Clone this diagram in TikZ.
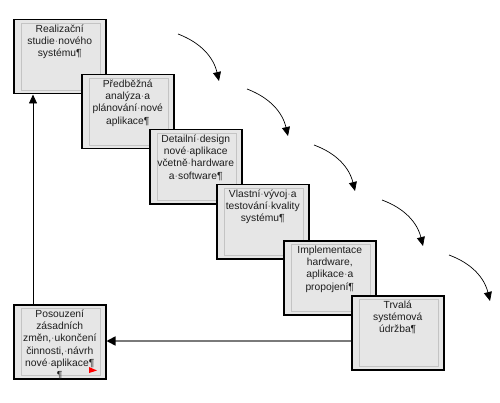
\documentclass[tikz,border=0pt]{standalone}
\usepackage{fontspec}
\setmainfont{Liberation Sans}
\usetikzlibrary{arrows.meta,calc}
\definecolor{boxgray}{HTML}{E6E6E6}
\definecolor{innergray}{HTML}{C4C4C4}
\definecolor{dotgray}{HTML}{707070}
\definecolor{txt}{HTML}{1E1E1E}
\definecolor{linegray}{HTML}{7A7A7A}
\newcommand\md{{\color{dotgray}·}}
\tikzset{
  boxst/.style={draw=black, line width=1.5pt, fill=boxgray, minimum width=92pt, minimum height=74pt, inner sep=0pt},
  innerst/.style={draw=innergray, line width=0.8pt},
  textst/.style={inner sep=0pt, text width=88pt, align=center, text=txt, font=\fontsize{10.3}{12.3}\selectfont},
  tri/.style={-{Triangle[length=9pt,width=8pt]}},
  curvearrow/.style={tri, line width=0.7pt, bend left=28},
  uparrow/.style={tri, line width=0.8pt},
  harrow/.style={-{Triangle[length=9pt,width=9pt,color=black]}, draw=linegray, line width=1.6pt},
}
\newcommand\wbox[4]{%
  \node[boxst, anchor=north west] (#1) at (#2,#3) {};
  \draw[innerst] ([xshift=8pt,yshift=-4pt]#1.north west) rectangle ([xshift=-6pt,yshift=4pt]#1.south east);
  \node[textst, anchor=north] (#1t) at ([yshift=-4.5pt]#1.north) {\strut #4};
}
\begin{document}
\begin{tikzpicture}[x=1pt,y=1pt]
\useasboundingbox (0,0) rectangle (500,402);
\wbox{b1}{13}{383}{Realizační\\studie\md nového\\systému¶}
\wbox{b2}{81}{328}{Předběžná\\analýza\md a\\plánování\md nové\\aplikace¶}
\wbox{b3}{149}{273}{Detailní\md design\\nové\md aplikace\\včetně\md hardware\\a\md software¶}
\wbox{b4}{216}{218}{Vlastní\md vývoj\md a\\testování\md kvality\\systému¶}
\wbox{b5}{283}{162}{Implementace\\hardware,\\aplikace\md a\\propojení¶}
\wbox{b6}{351}{107}{Trvalá\\systémová\\údržba¶}
\wbox{b7}{13}{98}{Posouzení\\zásadních\\změn,\md ukončení\\činnosti,\md návrh\\nové\md aplikace¶\\¶}
\fill[red] (89,35) -- (97,31.5) -- (89,29) -- cycle;
% feedback arrows
\coordinate (vx) at (33,0);
\coordinate (hy) at (0,61);
\draw[uparrow] (b7.north -| vx) -- (b1.south -| vx);
\draw[harrow] (b6.west |- hy) -- (b7.east |- hy);
% curved arrows
\coordinate (s1) at (178,368); \coordinate (e1) at (219,321);
\coordinate (s2) at (247,313); \coordinate (e2) at (288,266);
\coordinate (s3) at (314,257); \coordinate (e3) at (355,211);
\coordinate (s4) at (382,202); \coordinate (e4) at (423,156);
\coordinate (s5) at (449,147); \coordinate (e5) at (490,101);
\foreach \i in {1,...,5}{\draw[curvearrow] (s\i) to (e\i);}
\end{tikzpicture}
\end{document}
